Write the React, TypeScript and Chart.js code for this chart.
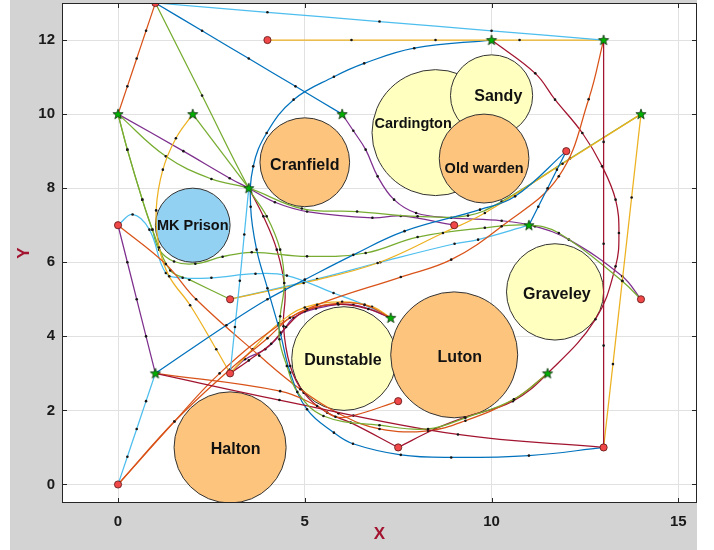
import React, { useEffect, useRef } from "react";
import { Chart, registerables } from "chart.js";
Chart.register(...registerables);

type P = [number, number];

// ---------- axes ----------
const xTicks = [0, 5, 10, 15];
const yTicks = [0, 2, 4, 6, 8, 10, 12];
const xRange: P = [-1.5, 15.5];
const yRange: P = [-0.5, 13];

// ---------- start (red circles) and goal (green stars) ----------
const startPoints: P[] = [
  [0, 7], [0, 0], [1, 13], [4, 12], [3, 5], [3, 3], [7.5, 2.25], [7.5, 1], [9, 7], [12, 9], [13, 1], [14, 5],
];
const goalPoints: P[] = [
  [0, 10], [2, 10], [3.5, 8], [6, 10], [10, 12], [13, 12], [14, 10], [11, 7], [7.3, 4.5], [11.5, 3], [1, 3],
];

// ---------- obstacles ----------
const circleNames = ["Cardington", "Sandy", "Old warden", "Cranfield", "MK Prison", "Halton", "Dunstable", "Luton", "Graveley"];
const circleX = [8.5, 10, 9.8, 5, 2, 3, 6.05, 9, 11.7];
const circleY = [9.5, 10.5, 8.8, 8.7, 7, 1, 3.4, 3.5, 5.2];
const circleR = [1.7, 1.1, 1.2, 1.2, 1.0, 1.5, 1.4, 1.7, 1.3];
const labelX = [7.9, 10.18, 9.8, 5, 2, 3.15, 6.02, 9.15, 11.75];
const labelY = [9.75, 10.5, 8.55, 8.65, 7, 0.97, 3.38, 3.45, 5.15];

// ---------- paths ----------
const pathTopLightBlue: P[] = [[1, 13], [4, 12.75], [7, 12.5], [10, 12.25], [13, 12]];
const pathTopOrange: P[] = [[1, 13], [0.75, 12.25], [0.5, 11.5], [0.25, 10.75], [0, 10]];
const pathTopBlue: P[] = [[1, 13], [2.25, 12.25], [3.5, 11.5], [4.75, 10.75], [6, 10]];
const pathGreenDown: P[] = [[1, 13], [2.25, 10.5], [3.5, 8], [3.98, 7.24], [4.34, 6.34], [4.45, 5.44], [4.34, 4.54], [4.32, 3.92], [4.52, 3.2], [4.8, 2.5], [5.5, 1.85], [7, 1.6], [8.3, 1.5], [9.3, 1.8], [10.6, 2.3], [11.5, 3]];
const pathYellowTop: P[] = [[4, 12], [6.25, 12], [8.5, 12], [10.75, 12], [13, 12]];
const pathRedVertical: P[] = [[13, 1], [13, 3.75], [13, 6.5], [13, 9.25], [13, 12]];
const pathYellowRight: P[] = [[13, 1], [13.25, 3.25], [13.5, 5.5], [13.75, 7.75], [14, 10]];
const pathRedLow: P[] = [[1, 3], [4.32, 2.28], [9.1, 1.35], [13, 1]];
const pathOrangeShort: P[] = [[1, 3], [4.34, 2.52], [5.33, 2.12], [5.82, 1.83], [6.3, 1.86], [7.5, 2.25]];
const pathBlueLoop: P[] = [[13, 1], [11, 0.78], [8.92, 0.73], [7.57, 0.8], [6.29, 1.1], [5.78, 1.4], [5.06, 2.03], [4.61, 3.02], [4.34, 4.1], [4.0, 5.3], [3.71, 6.34], [3.55, 7.5], [3.62, 8.59], [3.98, 9.49], [4.7, 10.39], [5.78, 11.01], [6.59, 11.37], [7.93, 11.78], [10, 12]];
const pathBlueDiag: P[] = [[1, 3], [2.9, 4.3], [4, 5], [5, 5.53], [6.3, 6.2], [7.67, 6.84], [9.69, 7.42], [10.63, 7.78], [12, 9]];
const pathBlueShort: P[] = [[12, 9], [11.75, 8.5], [11.5, 8], [11.25, 7.5], [11, 7]];
const pathLightBlueZero: P[] = [[0, 0], [0.25, 0.75], [0.5, 1.5], [0.75, 2.25], [1, 3]];
const pathPurpleLeft: P[] = [[0, 7], [0.25, 6], [0.5, 5], [0.75, 4], [1, 3]];
const pathLightBlueUp: P[] = [[3, 3], [3.13, 4.25], [3.26, 5.5], [3.38, 6.75], [3.5, 8]];
const pathOrangeArc: P[] = [[0, 0], [1.51, 1.7], [2.99, 3.1], [4.0, 3.95], [4.6, 4.5], [5.06, 4.73], [5.88, 4.89], [6.6, 4.85], [7.3, 4.5]];
const pathOrangeLong: P[] = [[0, 0], [1.51, 1.7], [2.72, 3.0], [4.3, 4.3], [5.33, 4.85], [7.57, 5.6], [8.92, 6.07], [10.27, 6.97], [11.8, 8.32], [12.6, 10.4], [13, 12]];
const pathOrangeWest: P[] = [[0, 7], [1.28, 5.95], [2.09, 5.0], [3.78, 3.48], [4.88, 2.57], [5.9, 1.92], [7, 1.5], [8.3, 1.45], [9.3, 1.72], [10.6, 2.3], [11.5, 3]];
const pathYellowWest: P[] = [[2, 10], [1.55, 9.35], [1.2, 8.5], [1.02, 7.4], [1.1, 6.4], [1.37, 5.62], [1.93, 4.84], [2.63, 3.65], [3, 3]];
const pathYellowArc: P[] = [[3, 3], [3.6, 3.65], [4.3, 4.35], [5.0, 4.78], [6.0, 4.93], [6.8, 4.8], [7.3, 4.5]];
const pathRedArc: P[] = [[3, 3], [3.5, 3.35], [4.1, 3.8], [4.5, 4.25], [5.0, 4.68], [5.9, 4.86], [6.7, 4.74], [7.3, 4.5]];
const pathPurpleArc: P[] = [[3, 3], [3.4, 3.38], [3.94, 3.65], [4.35, 4.05], [4.7, 4.5], [5.3, 4.75], [6.3, 4.85], [7.3, 4.5]];
const pathLightBlueWest: P[] = [[0, 7], [0.39, 7.29], [0.84, 6.88], [1.28, 5.71], [1.73, 5.58], [2.5, 5.58], [3.68, 5.69], [4.52, 5.64], [5.77, 5.17], [6.6, 4.85], [7.3, 4.5]];
const pathYellowEast: P[] = [[3, 5], [4.97, 5.44], [6.95, 5.98], [8.7, 6.79], [9.82, 7.33], [11.9, 8.66], [14, 10]];
const pathLightBlueEast: P[] = [[3, 5], [5.33, 5.55], [7.02, 6.0], [9.01, 6.5], [9.64, 6.61], [11, 7]];
const pathGreenToThree: P[] = [[0, 10], [0.25, 9.04], [0.65, 7.69], [0.92, 6.88], [1.4, 5.78], [1.91, 5.53], [3, 5]];
const pathGreenLong: P[] = [[0, 10], [0.25, 9.04], [0.65, 7.69], [0.92, 6.88], [1.1, 6.34], [1.5, 6.02], [2.07, 5.96], [2.8, 6.15], [3.58, 6.27], [5.06, 6.16], [6.63, 6.25], [8.02, 6.68], [9.82, 6.93], [11, 7], [11.8, 6.79], [13.5, 5.49], [14, 5]];
const pathGreenCranfield: P[] = [[0, 10], [1.28, 8.86], [2.5, 8.25], [3.5, 8], [4.92, 7.45], [6.4, 7.37], [8.02, 7.24], [9.37, 7.26], [10.27, 7.64], [12.1, 8.8], [14, 10]];
const pathGreenShort: P[] = [[2, 10], [3.5, 8]];
const pathPurpleWest: P[] = [[9, 7], [7.57, 7.25], [6.81, 7.2], [5.06, 7.37], [4.2, 7.62], [3.5, 8], [2.99, 8.27], [1.75, 9.0], [0, 10]];
const pathPurpleEast: P[] = [[6, 10], [6.3, 9.55], [6.63, 9.04], [6.95, 8.32], [7.39, 7.69], [7.98, 7.33], [8.92, 7.2], [10.27, 7.12], [11.16, 6.97], [12.07, 6.61], [13.5, 5.62], [14, 5]];
const pathRedA: P[] = [[3.5, 8], [3.89, 7.24], [4.25, 6.34], [4.47, 5.26], [4.43, 4.27], [4.61, 3.2], [4.97, 2.48], [5.6, 1.94], [6.23, 1.67], [7.5, 1]];
const pathRedB: P[] = [[7.5, 1], [8.47, 1.49], [9.28, 1.81], [10.57, 2.25], [11.5, 3], [12.78, 4.46], [13.32, 5.89], [13.41, 6.79], [13.32, 7.69], [12.96, 8.59], [12.43, 9.49], [11.7, 10.39], [11.17, 11.1], [10, 12]];

// ---------- styles ----------
const BLUE = "#0072BD", ORANGE = "#D95319", YELLOW = "#EDB120", PURPLE = "#7E2F8E",
  GREEN = "#77AC30", LIGHTBLUE = "#4DBEEE", DARKRED = "#A2142F";
const circleFills = ["#FFFFC0", "#FFFFC0", "#FDC47E", "#FDC47E", "#92D1F2", "#FDC47E", "#FFFFC0", "#FDC47E", "#FFFFC0"];
const labelSizes = [14.5, 16, 14.5, 16, 14.5, 16, 16, 16, 16];
const FONT = "'Liberation Sans', Arial, Helvetica, sans-serif";

const pathList: { pts: P[]; color: string }[] = [
  { pts: pathTopLightBlue, color: LIGHTBLUE },
  { pts: pathTopOrange, color: ORANGE },
  { pts: pathTopBlue, color: BLUE },
  { pts: pathGreenDown, color: GREEN },
  { pts: pathYellowTop, color: YELLOW },
  { pts: pathRedVertical, color: DARKRED },
  { pts: pathYellowRight, color: YELLOW },
  { pts: pathRedLow, color: DARKRED },
  { pts: pathOrangeShort, color: ORANGE },
  { pts: pathBlueLoop, color: BLUE },
  { pts: pathBlueDiag, color: BLUE },
  { pts: pathBlueShort, color: BLUE },
  { pts: pathLightBlueZero, color: LIGHTBLUE },
  { pts: pathPurpleLeft, color: PURPLE },
  { pts: pathLightBlueUp, color: LIGHTBLUE },
  { pts: pathOrangeArc, color: ORANGE },
  { pts: pathOrangeLong, color: ORANGE },
  { pts: pathOrangeWest, color: ORANGE },
  { pts: pathYellowWest, color: YELLOW },
  { pts: pathYellowArc, color: YELLOW },
  { pts: pathRedArc, color: DARKRED },
  { pts: pathPurpleArc, color: PURPLE },
  { pts: pathLightBlueWest, color: LIGHTBLUE },
  { pts: pathYellowEast, color: YELLOW },
  { pts: pathLightBlueEast, color: LIGHTBLUE },
  { pts: pathGreenToThree, color: GREEN },
  { pts: pathGreenLong, color: GREEN },
  { pts: pathGreenCranfield, color: GREEN },
  { pts: pathGreenShort, color: GREEN },
  { pts: pathPurpleWest, color: PURPLE },
  { pts: pathPurpleEast, color: PURPLE },
  { pts: pathRedA, color: DARKRED },
  { pts: pathRedB, color: DARKRED },
];

function makeStar(): HTMLCanvasElement {
  const c = document.createElement("canvas");
  c.width = 14;
  c.height = 14;
  const g = c.getContext("2d")!;
  g.beginPath();
  for (let i = 0; i < 10; i++) {
    const r = i % 2 === 0 ? 5.4 : 2.2;
    const a = -Math.PI / 2 + (i * Math.PI) / 5;
    g.lineTo(7 + r * Math.cos(a), 7.3 + r * Math.sin(a));
  }
  g.closePath();
  g.fillStyle = "#00B000";
  g.fill();
  g.strokeStyle = "#103010";
  g.lineWidth = 0.8;
  g.stroke();
  return c;
}

const backgroundPlugin = {
  id: "figBackground",
  beforeDraw(chart: any) {
    const { ctx, chartArea } = chart;
    ctx.save();
    ctx.fillStyle = "#ffffff";
    ctx.fillRect(0, 0, chart.width, chart.height);
    ctx.fillStyle = "#d3d3d3";
    ctx.fillRect(10, 0, chartArea.right - 10, chart.height);
    ctx.fillStyle = "#ffffff";
    ctx.fillRect(chartArea.left, chartArea.top, chartArea.right - chartArea.left, chartArea.bottom - chartArea.top);
    ctx.restore();
  },
};

const obstaclePlugin = {
  id: "obstacles",
  beforeDatasetsDraw(chart: any) {
    const { ctx, chartArea } = chart;
    const xs = chart.scales.x, ys = chart.scales.y;
    ctx.save();
    ctx.beginPath();
    ctx.rect(chartArea.left, chartArea.top, chartArea.right - chartArea.left, chartArea.bottom - chartArea.top);
    ctx.clip();
    for (let i = 0; i < circleNames.length; i++) {
      const cx = xs.getPixelForValue(circleX[i]);
      const cy = ys.getPixelForValue(circleY[i]);
      const rx = xs.getPixelForValue(circleX[i] + circleR[i]) - cx;
      const ry = cy - ys.getPixelForValue(circleY[i] + circleR[i]);
      ctx.beginPath();
      ctx.ellipse(cx, cy, rx, ry, 0, 0, Math.PI * 2);
      ctx.fillStyle = circleFills[i];
      ctx.fill();
      ctx.lineWidth = 1;
      ctx.strokeStyle = "#333333";
      ctx.stroke();
    }
    ctx.fillStyle = "#111111";
    ctx.textAlign = "center";
    ctx.textBaseline = "middle";
    for (let i = 0; i < circleNames.length; i++) {
      ctx.font = `bold ${labelSizes[i]}px ${FONT}`;
      ctx.fillText(circleNames[i], xs.getPixelForValue(labelX[i]), ys.getPixelForValue(labelY[i]) + 1);
    }
    ctx.restore();
  },
};

const boxPlugin = {
  id: "axesBox",
  afterDraw(chart: any) {
    const { ctx, chartArea } = chart;
    const xs = chart.scales.x, ys = chart.scales.y;
    const { left, right, top, bottom } = chartArea;
    ctx.save();
    ctx.strokeStyle = "#262626";
    ctx.lineWidth = 1;
    ctx.strokeRect(left + 0.5, top + 0.5, right - left - 1, bottom - top - 1);
    ctx.beginPath();
    const tl = 5;
    xTicks.forEach((v) => {
      const px = Math.round(xs.getPixelForValue(v)) + 0.5;
      ctx.moveTo(px, bottom);
      ctx.lineTo(px, bottom - tl);
      ctx.moveTo(px, top);
      ctx.lineTo(px, top + tl);
    });
    yTicks.forEach((v) => {
      const py = Math.round(ys.getPixelForValue(v)) + 0.5;
      ctx.moveTo(left, py);
      ctx.lineTo(left + tl, py);
      ctx.moveTo(right, py);
      ctx.lineTo(right - tl, py);
    });
    ctx.stroke();
    ctx.restore();
  },
};

export default function App() {
  const ref = useRef<HTMLCanvasElement>(null);
  useEffect(() => {
    const canvas = ref.current;
    if (!canvas) return;
    const star = makeStar();
    const toXY = (pts: P[]) => pts.map(([x, y]) => ({ x, y }));

    const pathDatasets = pathList.map((p) => ({
      data: toXY(p.pts),
      showLine: true,
      borderColor: p.color,
      borderWidth: 1.25,
      tension: 0.4,
      pointRadius: (c: any) => (c.dataIndex === 0 || c.dataIndex === p.pts.length - 1 ? 0 : 1.3),
      pointBackgroundColor: "#151515",
      pointBorderWidth: 0,
      pointHoverRadius: 0,
      order: 10,
    }));

    const chart = new Chart(canvas, {
      type: "scatter",
      data: {
        datasets: [
          {
            data: toXY(goalPoints),
            pointStyle: star as any,
            pointRadius: 6,
            showLine: false,
            order: 0,
          },
          {
            data: toXY(startPoints),
            pointStyle: "circle",
            pointRadius: 3.6,
            pointBackgroundColor: "#F04848",
            pointBorderColor: "#5A1414",
            pointBorderWidth: 0.8,
            showLine: false,
            order: 1,
          },
          ...pathDatasets,
        ] as any,
      },
      options: {
        animation: false,
        responsive: false,
        maintainAspectRatio: false,
        events: [],
        layout: { autoPadding: false, padding: { left: 0, right: 17, top: 3, bottom: 0 } },
        plugins: { legend: { display: false }, tooltip: { enabled: false } },
        scales: {
          x: {
            type: "linear",
            min: xRange[0],
            max: xRange[1],
            afterBuildTicks: (s: any) => {
              s.ticks = xTicks.map((v) => ({ value: v }));
            },
            afterFit: (s: any) => {
              s.height = 47;
              s.paddingLeft = 0;
              s.paddingRight = 0;
            },
            grid: { color: "#e1e1e1", drawTicks: false, lineWidth: 1 },
            border: { display: false },
            ticks: {
              color: "#1a1a1a",
              padding: 10,
              font: { family: FONT, size: 15, weight: "bold" },
              callback: (v: any) => String(v),
            },
            title: {
              display: true,
              text: "X",
              color: "#A2142F",
              font: { family: FONT, size: 17, weight: "bold" },
              padding: { top: 0, bottom: 5 },
            },
          },
          y: {
            type: "linear",
            min: yRange[0],
            max: yRange[1],
            afterBuildTicks: (s: any) => {
              s.ticks = yTicks.map((v) => ({ value: v }));
            },
            afterFit: (s: any) => {
              s.width = 62;
              s.paddingTop = 0;
              s.paddingBottom = 0;
            },
            grid: { color: "#e1e1e1", drawTicks: false, lineWidth: 1 },
            border: { display: false },
            ticks: {
              color: "#1a1a1a",
              padding: 7,
              font: { family: FONT, size: 15, weight: "bold" },
              callback: (v: any) => String(v),
            },
            title: {
              display: true,
              text: "Y",
              color: "#A2142F",
              font: { family: FONT, size: 17, weight: "bold" },
              padding: { top: 14, bottom: 0 },
            },
          },
        },
      } as any,
      plugins: [backgroundPlugin, obstaclePlugin, boxPlugin],
    });
    return () => chart.destroy();
  }, []);

  return (
    <div style={{ position: "absolute", left: 0, top: 0, width: 714, height: 550, background: "#ffffff" }}>
      <canvas ref={ref} width={714} height={550} style={{ display: "block", width: 714, height: 550 }} />
    </div>
  );
}
